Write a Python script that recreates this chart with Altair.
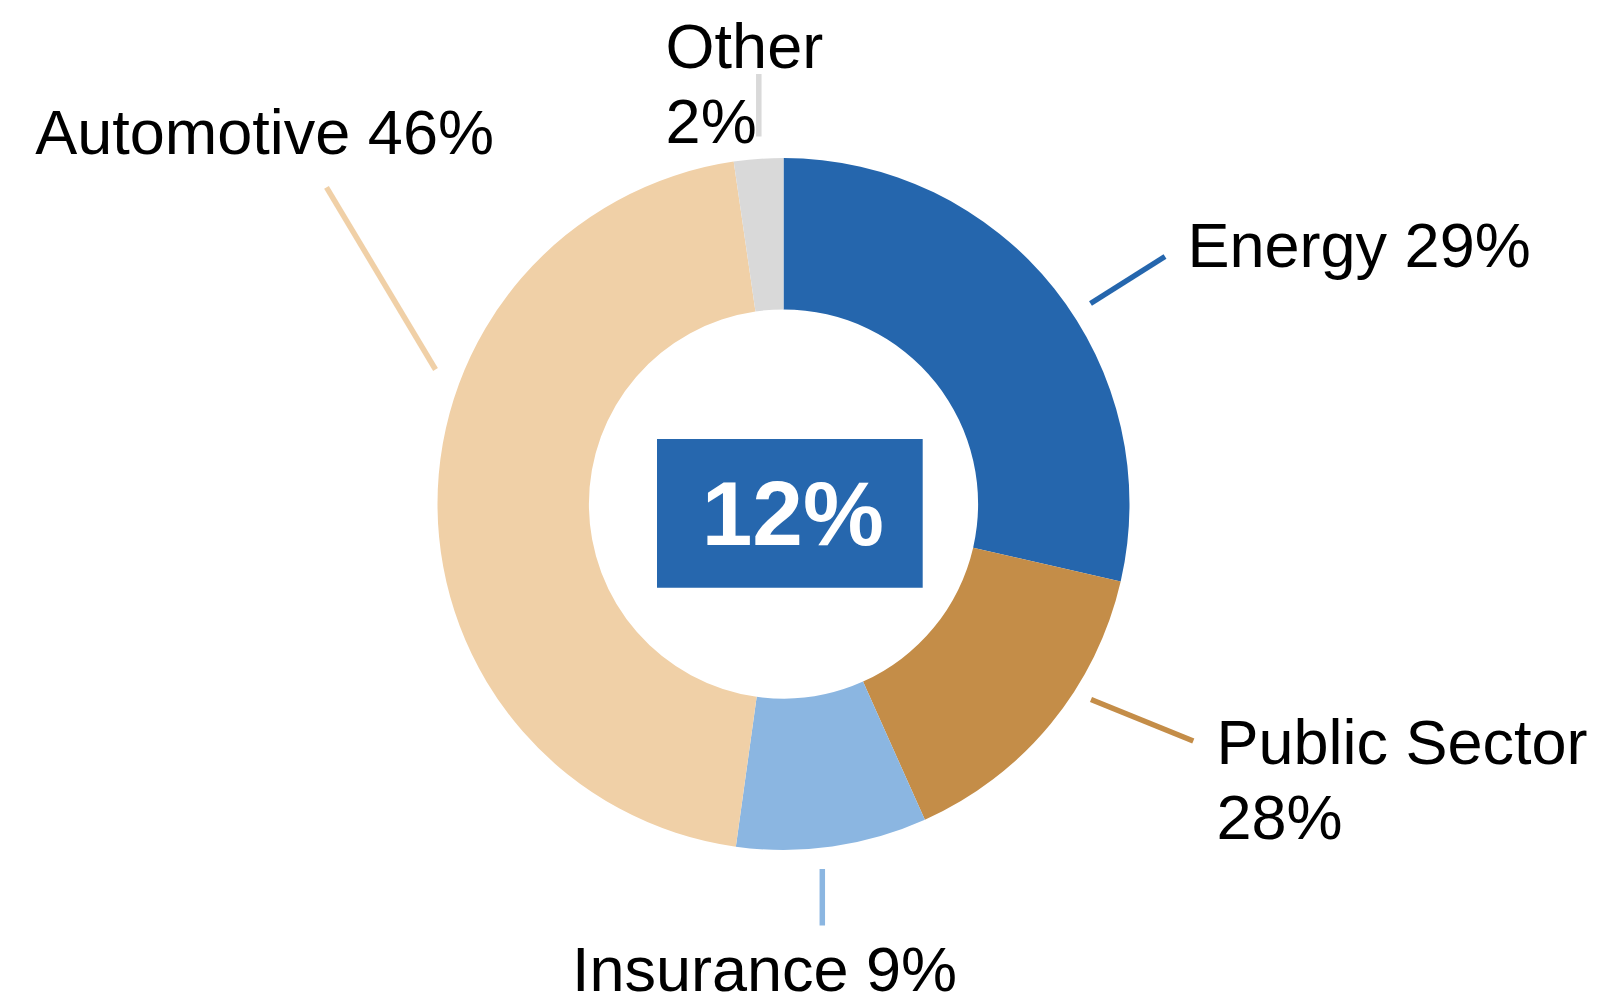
import altair as alt
import pandas as pd

# ---- data ----
categories = ["Energy", "Public Sector", "Insurance", "Automotive", "Other"]
shares = [28.6, 14.7, 8.9, 45.5, 2.3]          # slice sizes as drawn (% of circle)
label_texts = ["Energy 29%", "Public Sector\n28%", "Insurance 9%", "Automotive 46%", "Other\n2%"]
center_text = ["12%"]

# ---- styles ----
colors = ["#2566AD", "#C48D48", "#8BB6E1", "#F0D0A7", "#D9D9D9"]
box_color = "#2667AE"
FONT = "Liberation Sans"
BOLD_FONT = "Liberation Sans"

# ---- layout (page pixels) ----
PAGE = 8
W, H = 1551, 992               # view centre == donut centre
OUTER_R, INNER_R = 346, 194.6
leader_x1 = [1090.5, 1091.0, 822.3, 326.5, 758.8]
leader_y1 = [303.5, 699.5, 869.0, 187.3, 74.0]
leader_x2 = [1165.0, 1193.3, 822.3, 435.5, 758.8]
leader_y2 = [256.5, 741.0, 925.5, 369.5, 136.5]
label_x = [1187.5, 1216.4, 764.5, 35.2, 665.6]
label_y = [266.7, 764.0, 991.0, 154.0, 68.3]
label_align = ["left", "left", "center", "left", "left"]
box_x, box_x2, box_y, box_y2 = 657, 922.7, 439, 587.7
center_text_x, center_text_y = 792.8, 545

xs = alt.Scale(domain=[PAGE, PAGE + W], nice=False, zero=False)
ys = alt.Scale(domain=[PAGE, PAGE + H], nice=False, zero=False, reverse=True)
cs = alt.Scale(domain=categories, range=colors)

slices = pd.DataFrame({"category": categories, "share": shares, "idx": range(len(categories))})
leaders = pd.DataFrame({"category": categories, "x": leader_x1, "y": leader_y1,
                        "x2": leader_x2, "y2": leader_y2})
labels = pd.DataFrame({"category": categories, "text": label_texts, "x": label_x,
                       "y": label_y, "align": label_align})
box = pd.DataFrame({"x": [box_x], "x2": [box_x2], "y": [box_y], "y2": [box_y2],
                    "text": center_text, "tx": [center_text_x], "ty": [center_text_y]})

arcs = alt.Chart(slices).mark_arc(radius=OUTER_R, radius2=INNER_R, strokeWidth=0).encode(
    theta=alt.Theta("share:Q", stack=True),
    order=alt.Order("idx:Q"),
    color=alt.Color("category:N", scale=cs, legend=None),
)

rules = alt.Chart(leaders).mark_rule(strokeWidth=5.5).encode(
    x=alt.X("x:Q", scale=xs, axis=None),
    y=alt.Y("y:Q", scale=ys, axis=None),
    x2="x2:Q", y2="y2:Q",
    color=alt.Color("category:N", scale=cs, legend=None),
)

def label_layer(al):
    return alt.Chart(labels).transform_filter(
        alt.datum.align == al
    ).mark_text(
        align=al, baseline="alphabetic", font=FONT, fontSize=63, color="#000000",
        lineBreak="\n", lineHeight=75,
    ).encode(
        x=alt.X("x:Q", scale=xs, axis=None),
        y=alt.Y("y:Q", scale=ys, axis=None),
        text="text:N",
    )

rect = alt.Chart(box).mark_rect(color=box_color).encode(
    x=alt.X("x:Q", scale=xs, axis=None),
    y=alt.Y("y:Q", scale=ys, axis=None),
    x2="x2:Q", y2="y2:Q",
)
ctext = alt.Chart(box).mark_text(
    align="center", baseline="alphabetic", font=BOLD_FONT, fontWeight="bold",
    fontSize=91, color="white",
).encode(
    x=alt.X("tx:Q", scale=xs, axis=None),
    y=alt.Y("ty:Q", scale=ys, axis=None),
    text="text:N",
)

chart = alt.layer(arcs, rules, label_layer("left"), label_layer("center"), rect, ctext).properties(
    width=W, height=H, padding=0, background="white"
).configure_view(strokeWidth=0)

chart.save("out.html", embed_options={"renderer": "svg", "actions": False})
